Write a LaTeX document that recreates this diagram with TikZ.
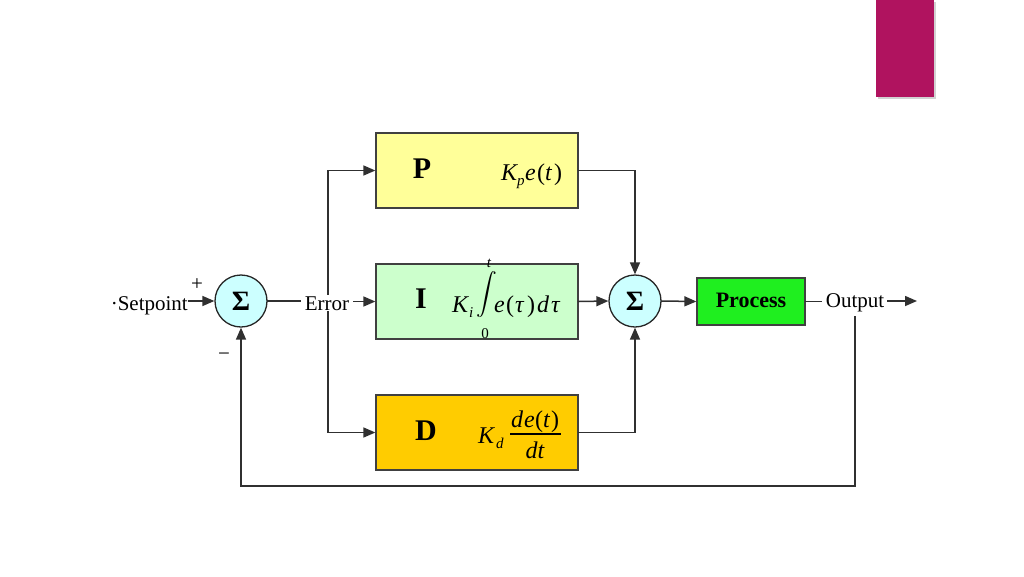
\documentclass[tikz,border=0pt]{standalone}
\usepackage{amsmath}
\usepackage{fontspec}
\setmainfont{Liberation Serif}
\usetikzlibrary{arrows.meta}
\definecolor{pcol}{HTML}{FFFF99}
\definecolor{icol}{HTML}{CCFFCC}
\definecolor{dcol}{HTML}{FFCC00}
\definecolor{proccol}{HTML}{1FEF1F}
\definecolor{sumcol}{HTML}{CCFFFF}
\definecolor{magcol}{HTML}{B0135F}
\definecolor{edgecol}{HTML}{404040}
\definecolor{linecol}{HTML}{303030}
\newcommand{\gl}[2]{\makebox[#1pt][l]{\itshape #2}}
\newcommand{\gr}[2]{\makebox[#1pt][l]{#2}}
\newcommand{\isub}[1]{\raisebox{-5pt}{\fontsize{15}{17}\selectfont\itshape #1}}
\begin{document}
\begin{tikzpicture}[x=1pt,y=-1pt,
  box/.style={draw=edgecol, line width=1.3pt, minimum width=202pt, minimum height=75pt, inner sep=0pt},
  sum/.style={circle, draw=black!85, line width=1.3pt, fill=sumcol, minimum size=52pt, inner sep=0pt,
    font=\fontsize{28}{30}\selectfont\bfseries},
  wire/.style={draw=linecol, line width=1.5pt, line cap=rect},
  arr/.style={wire, -{Triangle[length=12pt,width=10pt]}},
  lbl/.style={font=\fontsize{21}{25}\selectfont, inner sep=1pt},
  big/.style={font=\fontsize{30}{34}\selectfont\bfseries, inner sep=0pt},
  mth/.style={font=\fontsize{24}{28}\selectfont, inner sep=0pt},
  lim/.style={font=\fontsize{15}{17}\selectfont, inner sep=0pt}]
\useasboundingbox (0,0) rectangle (1024,576);
\fill[white] (0,0) rectangle (1024,576);
% corner accent
\fill[gray!35] (878,2) rectangle (936,99);
\fill[magcol] (876,0) rectangle (934,97);
% blocks
\node[sum] (s1) at (241,301) {\raisebox{-3pt}{Σ}};
\node[sum] (s2) at (635,301) {\raisebox{-3pt}{Σ}};
\node[box, fill=pcol] (P) at (477,170.5) {};
\node[box, fill=icol] (I) at (477,301.5) {};
\node[box, fill=dcol] (D) at (477,432.5) {};
\node[draw=edgecol, line width=1.3pt, fill=proccol, minimum width=108pt, minimum height=47pt, inner sep=0pt] (proc) at (751,301.5) {};
% block texts
\node[big, anchor=base] (Pl) at (422,178) {P};
\node[big, anchor=base] (Il) at (421,308) {I};
\node[big, anchor=base] (Dl) at (426,440) {D};
% P term
\node[mth, anchor=base west] (Pf) at (501,180) {\gl{16}{K}\gr{8}{\isub{p}}\gl{12}{e}\gr{8}{(}\gl{9}{t}\gr{8}{)}};
% I term
\node[mth, anchor=base west] (Ki) at (452,312) {\gl{17}{K}\isub{i}};
\node[font=\fontsize{22}{26}\selectfont, inner sep=0pt] (intg) at (486.5,295) {$\displaystyle\int$};
\node[lim, anchor=base] (tlim) at (489,267) {\itshape t};
\node[lim, anchor=base] (zlim) at (485,338) {0};
\node[mth, anchor=base west] (If) at (494,312) {\gl{12}{e}\gr{9}{(}\gl{12}{τ}\gr{10}{)}\gl{14}{d}\gl{12}{τ}};
% D term
\node[mth, anchor=base west] (Kd) at (478,443) {\gl{18}{K}\isub{d}};
\node[mth, anchor=base west] (Dn) at (511,427) {\gl{13}{d}\gl{11}{e}\gr{8}{(}\gl{8}{t}\gr{7}{)}};
\node[mth, anchor=base] (Dd) at (535,458) {\itshape dt};
\draw[line width=1.1pt] (510,434) -- (561,434);
\node[anchor=base, font=\fontsize{22}{26}\selectfont\bfseries, inner sep=0pt] (procl) at (751,307) {Process};
% split line (behind Error label)
\coordinate (split) at (328,301);
\draw[wire] (split |- P.west) -- (split |- D.west);
\draw[arr] (split |- P.west) -- (P.west);
\draw[arr] (split |- D.west) -- (D.west);
% labels
\node[lbl, anchor=base east] (sp) at (189,310) {·Setpoint};
\node[lbl] (plus) at (197,285) {+};
\node[lbl] (minus) at (224,357) {−};
\node[lbl, anchor=base, fill=white] (err) at (327,310) {Error};
\node[lbl, anchor=base] (out) at (855,307) {Output};
\coordinate (end) at (917,301);
\coordinate (fb) at (855,486);
% connectors
\draw[arr] (sp.east |- s1.west) -- (s1.west);
\draw[wire, shorten >=3pt] (s1.east) -- (err.west |- s1.east);
\draw[arr, shorten <=3pt] (err.east |- I.west) -- (I.west);
\draw[arr] (P.east) -| (s2.north);
\draw[arr] (I.east) -- (s2.west);
\draw[arr] (D.east) -| (s2.south);
\draw[arr] (s2.east) -- (proc.west);
\draw[wire, shorten >=3pt] (proc.east) -- (out.west |- proc.east);
\draw[arr, shorten <=2pt] (out.east |- end) -- (end);
\draw[arr, shorten <=4pt] (out.south) -- (out.south |- fb) -| (s1.south);
\end{tikzpicture}
\end{document}
